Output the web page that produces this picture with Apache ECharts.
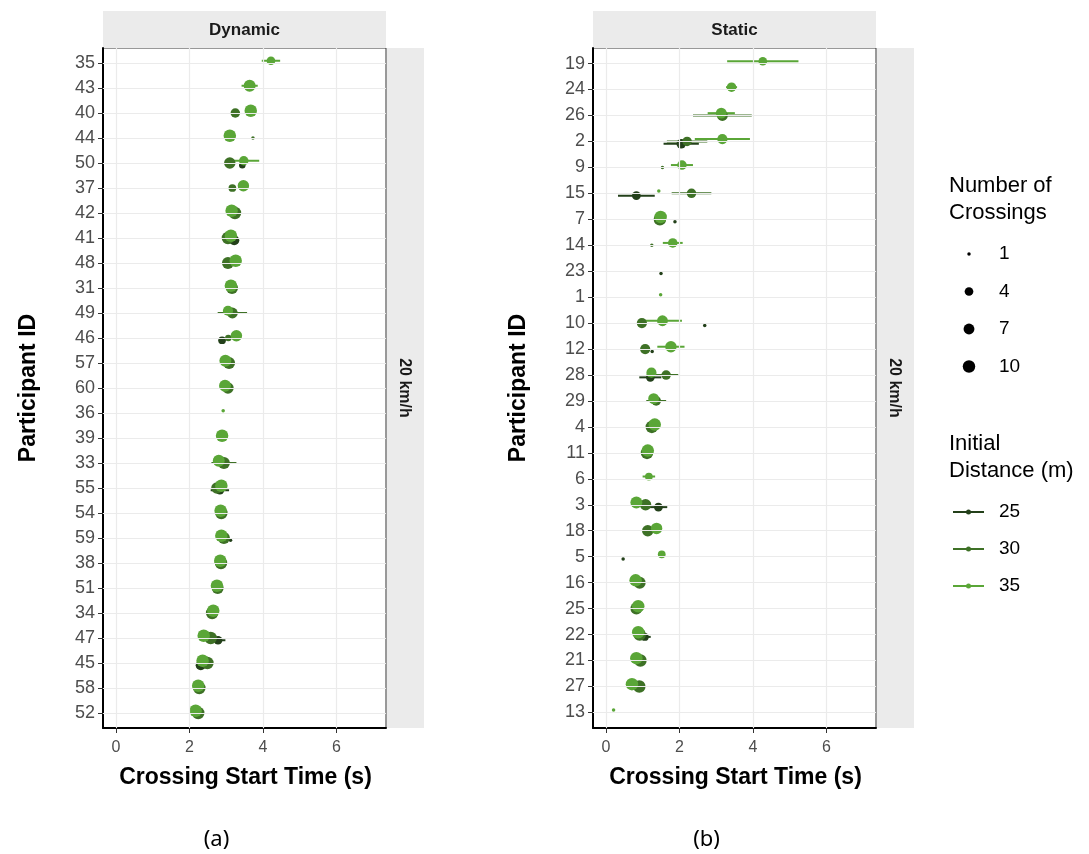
<!DOCTYPE html>
<html>
<head>
<meta charset="utf-8">
<script src="https://cdn.jsdelivr.net/npm/echarts@6/dist/echarts.min.js"></script>
<style>
  html, body { margin: 0; padding: 0; background: #fff; }
  #chart { width: 1089px; height: 854px; }
</style>
</head>
<body>
<div id="chart"></div>
<script>
// Participant order (top to bottom) in each panel
const dynamicIds = [35, 43, 40, 44, 50, 37, 42, 41, 48, 31, 49, 46, 57, 60, 36, 39, 33, 55, 54, 59, 38, 51, 34, 47, 45, 58, 52];
const staticIds = [19, 24, 26, 2, 9, 15, 7, 14, 23, 1, 10, 12, 28, 29, 4, 11, 6, 3, 18, 5, 16, 25, 22, 21, 27, 13];

const distances = [25, 30, 35];
const timeTicks = [0, 2, 4, 6];
const sizeLegendCounts = [1, 4, 7, 10];

// Rows: [participant, mean crossing start time (s), error half-width (s), number of crossings]
const dynamic25 = [
  [50, 3.44, 0.05, 2], [41, 3.22, 0.08, 6], [46, 2.89, 0.06, 3], [55, 2.83, 0.25, 4],
  [59, 3.12, 0, 1], [47, 2.78, 0.20, 4], [45, 2.31, 0.08, 6]
];
const dynamic30 = [
  [40, 3.25, 0.08, 5], [44, 3.73, 0, 1], [50, 3.10, 0.10, 8], [37, 3.17, 0.05, 3],
  [42, 3.24, 0.08, 10], [41, 3.05, 0.08, 10], [48, 3.05, 0.08, 9], [31, 3.16, 0.08, 9],
  [49, 3.17, 0.40, 7], [46, 3.06, 0.05, 2], [57, 3.08, 0.08, 9], [60, 3.05, 0.08, 8],
  [33, 2.94, 0.34, 9], [55, 2.75, 0.10, 8], [54, 2.87, 0.08, 10], [59, 2.94, 0.08, 9],
  [38, 2.86, 0.08, 10], [51, 2.77, 0.08, 9], [34, 2.62, 0.08, 10], [47, 2.58, 0.10, 10],
  [45, 2.49, 0.08, 10], [58, 2.27, 0.08, 10], [52, 2.24, 0.08, 10]
];
const dynamic35 = [
  [35, 4.22, 0.25, 4], [43, 3.64, 0.22, 9], [40, 3.67, 0.08, 10], [44, 3.10, 0.08, 10],
  [50, 3.48, 0.42, 5], [37, 3.47, 0.08, 8], [42, 3.15, 0.08, 10], [41, 3.13, 0.08, 10],
  [48, 3.26, 0.08, 10], [31, 3.13, 0.08, 10], [49, 3.05, 0.08, 6], [46, 3.28, 0.08, 8],
  [57, 2.98, 0.08, 9], [60, 2.97, 0.08, 9], [36, 2.92, 0, 1], [39, 2.89, 0.08, 10],
  [33, 2.80, 0.08, 9], [55, 2.87, 0.08, 10], [54, 2.85, 0.08, 10], [59, 2.87, 0.08, 10],
  [38, 2.84, 0.08, 10], [51, 2.75, 0.08, 10], [34, 2.65, 0.08, 10], [47, 2.39, 0.08, 10],
  [45, 2.36, 0.08, 10], [58, 2.24, 0.08, 10], [52, 2.17, 0.08, 10]
];

const static25 = [
  [2, 2.05, 0.48, 5], [15, 0.83, 0.50, 4], [7, 1.88, 0, 1], [23, 1.50, 0, 1],
  [10, 2.69, 0, 1], [12, 1.26, 0, 1], [28, 1.21, 0.30, 4], [3, 1.43, 0.24, 4],
  [5, 0.47, 0, 1], [22, 1.06, 0.16, 3]
];
const static30 = [
  [26, 3.17, 0.80, 7], [2, 2.21, 0.55, 5], [9, 1.54, 0, 1], [15, 2.33, 0.54, 5],
  [7, 1.47, 0.08, 10], [14, 1.25, 0, 1], [10, 0.98, 0.08, 6], [12, 1.07, 0.08, 6],
  [28, 1.64, 0.33, 5], [29, 1.37, 0.27, 5], [4, 1.25, 0.08, 10], [11, 1.12, 0.08, 10],
  [3, 1.08, 0.08, 8], [18, 1.14, 0.08, 8], [16, 0.92, 0.08, 9], [25, 0.83, 0.08, 9],
  [22, 0.92, 0.08, 10], [21, 0.94, 0.08, 10], [27, 0.91, 0.08, 10]
];
const static35 = [
  [19, 4.27, 0.97, 4], [24, 3.42, 0.15, 5], [26, 3.14, 0.37, 7], [2, 3.17, 0.75, 6],
  [9, 2.07, 0.30, 5], [15, 1.44, 0, 1], [7, 1.49, 0.08, 10], [14, 1.82, 0.27, 5],
  [1, 1.49, 0, 1], [10, 1.54, 0.53, 7], [12, 1.77, 0.37, 8], [28, 1.24, 0.08, 6],
  [29, 1.30, 0.08, 7], [4, 1.33, 0.08, 10], [11, 1.14, 0.08, 10], [6, 1.17, 0.17, 3],
  [3, 0.83, 0.08, 9], [18, 1.38, 0.08, 8], [5, 1.52, 0, 3], [16, 0.81, 0.08, 10],
  [25, 0.88, 0.08, 10], [22, 0.88, 0.08, 10], [21, 0.83, 0.08, 10], [27, 0.71, 0.08, 10],
  [13, 0.21, 0, 1]
];

const distanceColors = { 25: '#23401a', 30: '#3e7126', 35: '#5aa637' };
// vertical dodge so overlapping distance groups stay distinguishable
const dodge = { 25: 0.09, 30: 0, 35: -0.09 };

// point diameter grows with the square root of the crossing count
function sizeOf(n) {
  return 3.5 + 9 * Math.sqrt((n - 1) / 9);
}

const FONT = '"Liberation Sans", Arial, sans-serif';
const panels = [
  { ids: dynamicIds, rows: { 25: dynamic25, 30: dynamic30, 35: dynamic35 }, left: 103, title: 'Dynamic', label: '(a)' },
  { ids: staticIds, rows: { 25: static25, 30: static30, 35: static35 }, left: 593, title: 'Static', label: '(b)' }
];
const PANEL_W = 283, PANEL_TOP = 48, PANEL_H = 680, STRIP_H = 37, SIDE_W = 37;

const grids = [], xAxes = [], yAxes = [], series = [], graphics = [];

panels.forEach((p, gi) => {
  const n = p.ids.length;
  const rowIdx = p.ids.map((_, i) => i);
  grids.push({ left: p.left, top: PANEL_TOP, width: PANEL_W, height: PANEL_H,
    show: true, borderColor: '#333', borderWidth: 1, backgroundColor: '#fff' });
  xAxes.push({
    gridIndex: gi, type: 'value', min: -0.35, max: 7.35,
    axisLine: { show: true, onZero: false, lineStyle: { color: '#000', width: 2 } },
    axisTick: { show: true, customValues: timeTicks, length: 5, lineStyle: { color: '#333' } },
    axisLabel: { customValues: timeTicks, color: '#4d4d4d', fontSize: 16, fontFamily: FONT, margin: 12 },
    splitLine: { show: false }
  });
  yAxes.push({
    gridIndex: gi, type: 'value', inverse: true, min: -0.6, max: n - 0.4,
    axisLine: { show: true, onZero: false, lineStyle: { color: '#000', width: 2 } },
    axisTick: { show: true, customValues: rowIdx, length: 5, lineStyle: { color: '#333' } },
    axisLabel: { customValues: rowIdx, color: '#4d4d4d', fontSize: 18, fontFamily: FONT, margin: 8,
      formatter: v => String(p.ids[Math.round(v)]) },
    splitLine: { show: false }
  });

  // panel grid lines at row positions and time ticks
  series.push({
    type: 'line', xAxisIndex: gi, yAxisIndex: gi, data: [], z: 0, silent: true,
    markLine: {
      silent: true, symbol: ['none', 'none'], animation: false,
      label: { show: false },
      lineStyle: { color: '#ebebeb', type: 'solid', width: 1.2 },
      data: rowIdx.map(i => ({ yAxis: i })).concat(timeTicks.map(t => ({ xAxis: t })))
    }
  });

  // horizontal error bars
  distances.forEach(d => {
    const color = distanceColors[d];
    series.push({
      type: 'custom', xAxisIndex: gi, yAxisIndex: gi, z: 2, silent: true,
      data: p.rows[d].filter(r => r[2] > 0).map(r => [r[1] - r[2], r[1] + r[2], p.ids.indexOf(r[0]) + dodge[d]]),
      encode: { x: [0, 1], y: 2 },
      renderItem: (params, api) => {
        const y = api.value(2);
        const a = api.coord([api.value(0), y]);
        const b = api.coord([api.value(1), y]);
        return { type: 'line', shape: { x1: a[0], y1: a[1], x2: b[0], y2: b[1] },
          style: { stroke: color, lineWidth: 2 } };
      }
    });
  });

  // mean points sized by number of crossings
  distances.forEach(d => {
    series.push({
      type: 'scatter', xAxisIndex: gi, yAxisIndex: gi, z: 3,
      name: String(d),
      data: p.rows[d].map(r => [r[1], p.ids.indexOf(r[0]) + dodge[d], r[3]]),
      symbol: 'circle',
      symbolSize: v => sizeOf(v[2]),
      itemStyle: { color: distanceColors[d], opacity: 1 }
    });
  });

  // facet strips
  graphics.push({ type: 'rect', shape: { x: p.left, y: PANEL_TOP - STRIP_H, width: PANEL_W, height: STRIP_H },
    style: { fill: '#ebebeb' } });
  graphics.push({ type: 'text', x: p.left + PANEL_W / 2, y: PANEL_TOP - STRIP_H / 2 + 1,
    style: { text: p.title, font: 'bold 17px ' + FONT, fill: '#1a1a1a', align: 'center', verticalAlign: 'middle' } });
  graphics.push({ type: 'rect', shape: { x: p.left + PANEL_W + 1, y: PANEL_TOP, width: SIDE_W, height: PANEL_H },
    style: { fill: '#ebebeb' } });
  graphics.push({ type: 'text', x: p.left + PANEL_W + 1 + SIDE_W / 2 - 1, y: PANEL_TOP + PANEL_H / 2, rotation: -Math.PI / 2,
    style: { text: '20 km/h', font: 'bold 16px ' + FONT, fill: '#1a1a1a', align: 'center', verticalAlign: 'middle' } });

  // axis titles
  graphics.push({ type: 'text', x: p.left - 74, y: PANEL_TOP + PANEL_H / 2, rotation: Math.PI / 2,
    style: { text: 'Participant ID', font: 'bold 23px ' + FONT, fill: '#000', align: 'center', verticalAlign: 'middle' } });
  graphics.push({ type: 'text', x: p.left + PANEL_W / 2 + 1, y: 778,
    style: { text: 'Crossing Start Time (s)', font: 'bold 23px ' + FONT, fill: '#000', align: 'center', verticalAlign: 'middle' } });
  graphics.push({ type: 'text', x: p.left + PANEL_W / 2 - 28, y: 840,
    style: { text: p.label, font: '22px "Noto Sans", "Open Sans", sans-serif', fill: '#000', align: 'center', verticalAlign: 'middle' } });
});

// legend: number of crossings
const LEG_X = 949;
graphics.push({ type: 'text', x: LEG_X, y: 186,
  style: { text: 'Number of', font: '22px ' + FONT, fill: '#000', verticalAlign: 'middle' } });
graphics.push({ type: 'text', x: LEG_X, y: 213,
  style: { text: 'Crossings', font: '22px ' + FONT, fill: '#000', verticalAlign: 'middle' } });
sizeLegendCounts.forEach((c, i) => {
  const cy = 254 + i * 37.5;
  graphics.push({ type: 'circle', shape: { cx: 969, cy: cy, r: sizeOf(c) / 2 }, style: { fill: '#000' } });
  graphics.push({ type: 'text', x: 999, y: cy,
    style: { text: String(c), font: '19px ' + FONT, fill: '#000', verticalAlign: 'middle' } });
});

// legend: initial distance
graphics.push({ type: 'text', x: LEG_X, y: 444,
  style: { text: 'Initial', font: '22px ' + FONT, fill: '#000', verticalAlign: 'middle' } });
graphics.push({ type: 'text', x: LEG_X, y: 471,
  style: { text: 'Distance (m)', font: '22px ' + FONT, fill: '#000', verticalAlign: 'middle' } });
distances.forEach((d, i) => {
  const cy = 512 + i * 37;
  graphics.push({ type: 'line', shape: { x1: 953, y1: cy, x2: 984, y2: cy },
    style: { stroke: distanceColors[d], lineWidth: 2 } });
  graphics.push({ type: 'circle', shape: { cx: 968.5, cy: cy, r: 2.5 }, style: { fill: distanceColors[d] } });
  graphics.push({ type: 'text', x: 999, y: cy,
    style: { text: String(d), font: '19px ' + FONT, fill: '#000', verticalAlign: 'middle' } });
});

const chart = echarts.init(document.getElementById('chart'), null, { renderer: 'canvas' });
chart.setOption({
  animation: false,
  backgroundColor: '#fff',
  grid: grids,
  xAxis: xAxes,
  yAxis: yAxes,
  series: series,
  graphic: { elements: graphics }
});
</script>
</body>
</html>
